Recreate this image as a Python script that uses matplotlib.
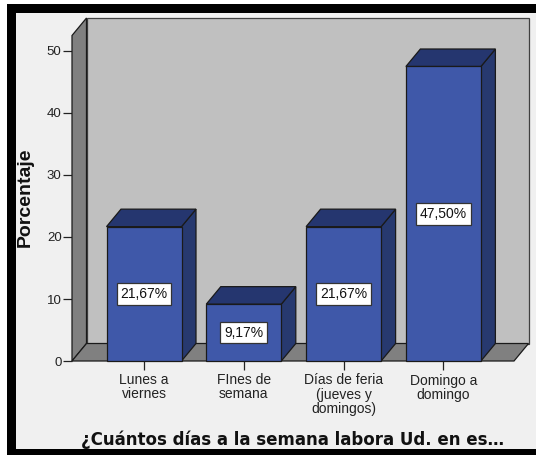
import matplotlib
matplotlib.use("Agg")
import matplotlib.pyplot as plt
from matplotlib.patches import Polygon, Rectangle

categories = ["Lunes a\nviernes", "FInes de\nsemana", "Días de feria\n(jueves y\ndomingos)", "Domingo a\ndomingo"]
values = [21.67, 9.17, 21.67, 47.50]
value_labels = ["21,67%", "9,17%", "21,67%", "47,50%"]
yticks = [0, 10, 20, 30, 40, 50]
ylabel = "Porcentaje"
title = "¿Cuántos días a la semana labora Ud. en es…"

W, H = 536, 455
fig = plt.figure(figsize=(W / 100, H / 100), dpi=100)
fig.patch.set_facecolor('#f0f0f0')

# geometry of the front plane (pixels)
x_left_px, x_right_px = 72, 514
y0_px = 361
ppu = 6.2          # pixels per percentage unit
cat0_px, cat_step = 144, 99.8
ytop = 53.0
y_top_px = y0_px - ytop * ppu
ax = fig.add_axes([x_left_px / W, 1 - y0_px / H,
                   (x_right_px - x_left_px) / W, (y0_px - y_top_px) / H])
xlo = (x_left_px - cat0_px) / cat_step
xhi = (x_right_px - cat0_px) / cat_step
ax.set_xlim(xlo, xhi)
ax.set_ylim(0, ytop)
ax.patch.set_visible(False)
for s in ax.spines.values():
    s.set_visible(False)

ddx = 14.5 / cat_step
ddy = 17.5 / ppu
wall_top = 52.5

wall_dark = '#808080'
wall_light = '#c0c0c0'
edge = '#1a1a1a'

# back wall
ax.add_patch(Polygon([(xlo + ddx, ddy), (xhi + ddx, ddy), (xhi + ddx, wall_top + ddy),
                      (xlo + ddx, wall_top + ddy)], closed=True, fc=wall_light,
                     ec='#404040', lw=0.9, clip_on=False, zorder=1))
# left wall
ax.add_patch(Polygon([(xlo, 0), (xlo, wall_top), (xlo + ddx, wall_top + ddy), (xlo + ddx, ddy)],
                     closed=True, fc=wall_dark, ec=edge, lw=0.9, clip_on=False, zorder=2))
# floor
ax.add_patch(Polygon([(xlo, 0), (xhi, 0), (xhi + ddx, ddy), (xlo + ddx, ddy)],
                     closed=True, fc=wall_dark, ec=edge, lw=0.9, clip_on=False, zorder=2))

bw = 75 / cat_step
front_c = '#3f58a9'
top_c = '#25366f'
side_c = '#27396f'
for i, v in enumerate(values):
    l, r = i - bw / 2, i + bw / 2
    ax.add_patch(Polygon([(r, 0), (r + ddx, ddy), (r + ddx, v + ddy), (r, v)], closed=True,
                         fc=side_c, ec=edge, lw=0.9, clip_on=False, zorder=3))
    ax.add_patch(Polygon([(l, v), (r, v), (r + ddx, v + ddy), (l + ddx, v + ddy)], closed=True,
                         fc=top_c, ec=edge, lw=0.9, clip_on=False, zorder=3))
    ax.add_patch(Rectangle((l, 0), bw, v, fc=front_c, ec=edge, lw=0.9, clip_on=False, zorder=4))
    ax.text(i, v / 2, value_labels[i], ha='center', va='center', fontsize=10,
            family='Liberation Sans', color='#111111', zorder=6,
            bbox=dict(boxstyle='square,pad=0.28', fc='white', ec='#333333', lw=0.9))

ax.set_yticks(yticks)
ax.set_yticklabels([str(t) for t in yticks], family='Liberation Sans', fontsize=9.5, color='#222222')
ax.tick_params(axis='y', direction='out', length=6.5, width=0.9, color='#222222', pad=1)
ax.set_xticks(range(len(categories)))
ax.set_xticklabels(categories, family='Liberation Sans', fontsize=10, color='#222222')
ax.tick_params(axis='x', direction='out', length=6.5, width=0.9, color='#222222', pad=2.5)
for t in ax.get_xticklabels():
    t.set_linespacing(1.0)

fig.text(25 / W, 1 - 197 / H, ylabel, rotation=90, ha='center', va='center',
         fontsize=14, fontweight='bold', family='Liberation Sans', color='#111111')
fig.text(293 / W, 1 - 445 / H, title, ha='center', va='baseline',
         fontsize=12, fontweight='bold', family='DejaVu Sans', color='#111111')

# window frame (screenshot border)
def frect(x, y, w, h, c):
    fig.add_artist(Rectangle((x / W, 1 - (y + h) / H), w / W, h / H, transform=fig.transFigure,
                             fc=c, ec='none', zorder=-5))

frect(0, 0, W, 4, 'white')
frect(0, 0, 7, H, 'white')
frect(7, 4, W - 7, 8.5, 'black')
frect(7, 4, 9, H - 4, 'black')
frect(7, 449, W - 7, 6, 'black')

fig.savefig('out.png', dpi=100, facecolor=fig.get_facecolor())
